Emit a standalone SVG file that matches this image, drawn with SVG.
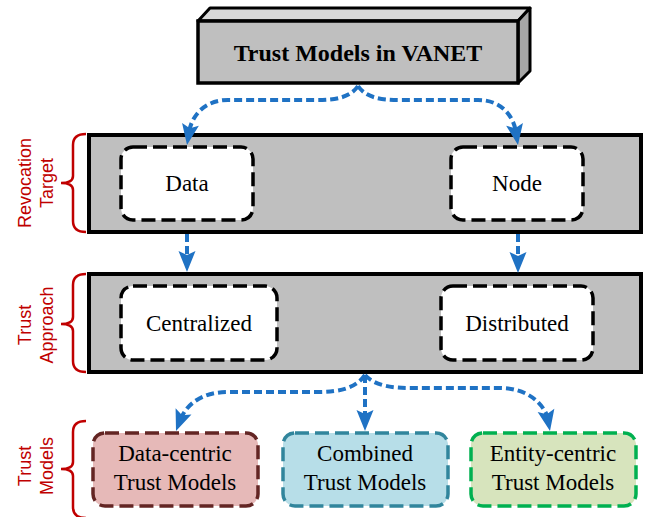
<svg xmlns="http://www.w3.org/2000/svg" width="651" height="517" viewBox="0 0 651 517">
<style>
.panel{fill:#bfbfbf;stroke:#000;stroke-width:4;}
.inner{fill:#fff;stroke:#000;stroke-width:3.5;stroke-dasharray:14 6;}
.lbl{font-family:"Liberation Serif","Times New Roman",serif;font-size:23px;fill:#000;text-anchor:middle;}
.side{font-family:"Liberation Sans",Arial,sans-serif;font-size:18px;fill:#c00000;text-anchor:middle;}
.brace{fill:none;stroke:#c00000;stroke-width:2.5;}
.conn{fill:none;stroke:#1f72c4;stroke-width:4;stroke-dasharray:8 4;}
</style>
<defs>
<path id="head" d="M0,0 L-21,-8.5 L-17,0 L-21,8.5 Z" fill="#1f72c4"/>
</defs>

<g id="root">
<polygon points="198,21 210,8 530,8 518,21" fill="#d9d9d9" stroke="#000" stroke-width="3" stroke-linejoin="round"/>
<polygon points="518,21 530,8 530,71 518,83" fill="#a6a6a6" stroke="#000" stroke-width="3" stroke-linejoin="round"/>
<rect x="198" y="21" width="320" height="62" fill="#bfbfbf" stroke="#000" stroke-width="3.5"/>
<text x="358" y="61" font-family="'Liberation Serif','Times New Roman',serif" font-size="24" font-weight="bold" text-anchor="middle">Trust Models in VANET</text>
</g>

<g id="panel-revocation">
<rect class="panel" x="89" y="135" width="552" height="97"/>
</g>
<g id="node-data">
<rect class="inner" x="121" y="147" width="132" height="73" rx="12"/>
<text class="lbl" x="187" y="191">Data</text>
</g>
<g id="node-node">
<rect class="inner" x="451" y="147" width="132" height="73" rx="12"/>
<text class="lbl" x="517" y="191">Node</text>
</g>

<g id="panel-approach">
<rect class="panel" x="89" y="274" width="552" height="98"/>
</g>
<g id="node-centralized">
<rect class="inner" x="121" y="286" width="156" height="74" rx="12"/>
<text class="lbl" x="199" y="331">Centralized</text>
</g>
<g id="node-distributed">
<rect class="inner" x="441" y="286" width="152" height="74" rx="12"/>
<text class="lbl" x="517" y="331">Distributed</text>
</g>

<g id="node-datacentric">
<rect x="93" y="433" width="165" height="73" rx="12" fill="#e6b9b8" stroke="#632523" stroke-width="3.5" stroke-dasharray="14 6"/>
<text class="lbl" x="175" y="461">Data-centric</text>
<text class="lbl" x="175" y="490">Trust Models</text>
</g>
<g id="node-combined">
<rect x="283" y="433" width="165" height="73" rx="12" fill="#b7dee8" stroke="#31859c" stroke-width="3.5" stroke-dasharray="14 6"/>
<text class="lbl" x="365" y="461">Combined</text>
<text class="lbl" x="365" y="490">Trust Models</text>
</g>
<g id="node-entitycentric">
<rect x="471" y="433" width="165" height="73" rx="12" fill="#d7e4bd" stroke="#00b050" stroke-width="3.5" stroke-dasharray="14 6"/>
<text class="lbl" x="553" y="461">Entity-centric</text>
<text class="lbl" x="553" y="490">Trust Models</text>
</g>

<g id="side-labels">
<path class="brace" d="M86,134 Q73,134 73,145 L73,176 Q73,183 61,183 Q73,183 73,190 L73,221 Q73,232 86,232"/>
<text class="side" transform="translate(31,183) rotate(-90)">Revocation</text>
<text class="side" transform="translate(53,183) rotate(-90)">Target</text>
<path class="brace" d="M86,274 Q73,274 73,285 L73,317 Q73,324 61,324 Q73,324 73,331 L73,361 Q73,372 86,372"/>
<text class="side" transform="translate(31,325) rotate(-90)">Trust</text>
<text class="side" transform="translate(53,325) rotate(-90)">Approach</text>
<path class="brace" d="M86,421 Q73,421 73,432 L73,462 Q73,469 61,469 Q73,469 73,476 L73,507 Q73,518 86,518"/>
<text class="side" transform="translate(31,466) rotate(-90)">Trust</text>
<text class="side" transform="translate(53,466) rotate(-90)">Models</text>
</g>

<g id="connectors">
<path class="conn" d="M358,86 C350,98 335,100 315,100 L228,100 C205,100 192,115 189,132"/>
<use href="#head" transform="translate(187,145) rotate(99.5)"/>
<path class="conn" d="M358,86 C366,98 381,100 401,100 L478,100 C501,100 513,115 516,132"/>
<use href="#head" transform="translate(518,145) rotate(80.5)"/>
<path class="conn" d="M187,234 L187,258"/>
<use href="#head" transform="translate(187,272) rotate(90)"/>
<path class="conn" d="M518,234 L518,259"/>
<use href="#head" transform="translate(518,273) rotate(90)"/>
<path class="conn" d="M365,375 C356,388 340,392 318,392 L228,392 C203,392 188,403 181,418"/>
<use href="#head" transform="translate(176,431) rotate(111)"/>
<path class="conn" d="M365,375 L365,418"/>
<use href="#head" transform="translate(365,431) rotate(90)"/>
<path class="conn" d="M365,375 C375,386 392,388 412,388 L500,388 C527,388 543,403 548,418"/>
<use href="#head" transform="translate(550,431) rotate(79)"/>
</g>
</svg>
